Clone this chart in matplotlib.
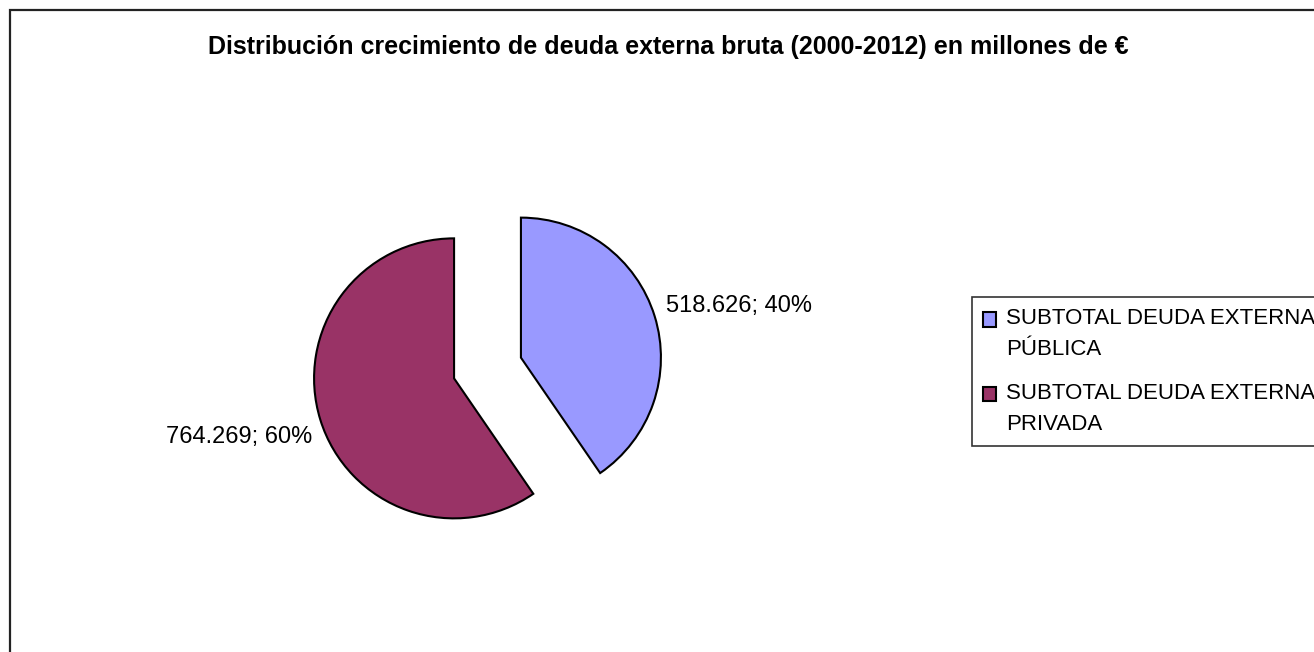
import matplotlib
matplotlib.use("Agg")
import matplotlib.pyplot as plt
from matplotlib.patches import Rectangle

plt.rcParams['font.family'] = ['Liberation Sans', 'DejaVu Sans']

categories = ["SUBTOTAL DEUDA EXTERNA\nPÚBLICA", "SUBTOTAL DEUDA EXTERNA\nPRIVADA"]
values = [518.626, 764.269]
value_labels = ["518.626", "764.269"]
colors = ["#9999FF", "#993366"]
title = "Distribución crecimiento de deuda externa bruta (2000-2012) en millones de €"

W, H = 1314, 652
fig = plt.figure(figsize=(W / 100, H / 100), dpi=100)
fig.patch.set_facecolor("white")

# figure border (clipped at right and bottom)
fig.patches.append(Rectangle((10 / W, -0.2), 1.2, 1 - 10 / H + 0.2, transform=fig.transFigure,
                             fill=False, edgecolor="#222222", linewidth=1.6))

ax = fig.add_axes([0, 0, 1, 1])
R = 140.0
cx, cy = 487.5, H - 368

total = sum(values)
pct = [round(v / total * 100) for v in values]
labels = [f"{l}; {p}%" for l, p in zip(value_labels, pct)]

wedges, texts = ax.pie(values, colors=colors, startangle=90, counterclock=False,
                       explode=[0.25, 0.25], labels=labels, labeldistance=1.2,
                       wedgeprops=dict(edgecolor="black", linewidth=1.5),
                       textprops=dict(fontsize=17), frame=False)
ax.set_xlim(-cx / R, (W - cx) / R)
ax.set_ylim(-cy / R, (H - cy) / R)
ax.set_aspect("equal")
ax.axis("off")

label_pos = [((666 - cx) / R, (H - 306 - cy) / R, "left"),
             ((312 - cx) / R, (H - 437 - cy) / R, "right")]
for t, (x, y, ha) in zip(texts, label_pos):
    t.set_position((x, y))
    t.set_ha(ha)
    t.set_va("center")

fig.text(668 / W, 1 - 47 / H, title, ha="center", va="center", fontsize=18, fontweight="bold")

leg = fig.legend(wedges, categories, loc="upper left", bbox_to_anchor=(972 / W, 1 - 297 / H),
                 fontsize=16, frameon=True, fancybox=False, shadow=False,
                 handlelength=0.6, handleheight=0.6, handletextpad=0.45, labelspacing=1.05,
                 borderpad=0.5, borderaxespad=0)
leg.get_frame().set_edgecolor("black")
leg.get_frame().set_linewidth(1.2)
for t in leg.get_texts():
    t.set_linespacing(1.6)
for h in leg.legend_handles:
    h.set_y(h.get_y() + 10.5)
    h.set_linewidth(1.5)

fig.savefig("out.png", dpi=100)
